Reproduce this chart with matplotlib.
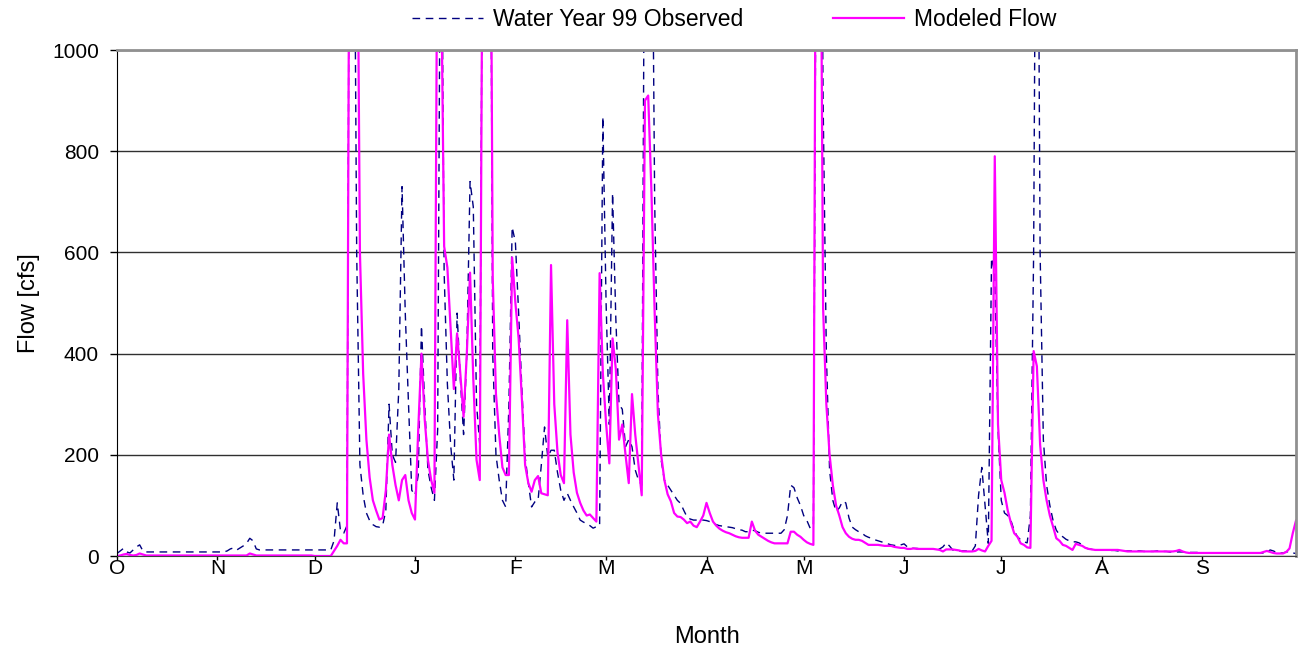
import matplotlib.pyplot as plt
import numpy as np

plt.rcParams['font.family'] = ['Liberation Sans', 'DejaVu Sans']

# daily flow, water year 1999 (Oct 1 .. Sep 30), values above 1000 are off the chart
observado = [
    # Oct
    5, 10, 15, 8, 6, 12, 18, 22, 10, 8, 8, 8, 8, 8, 8, 8, 8, 8, 8, 8, 8, 8, 8, 8, 8, 8, 8, 8, 8, 8, 8,
    # Nov
    8, 8, 8, 10, 14, 16, 12, 16, 20, 25, 35, 30, 14, 12, 12, 12, 12, 12, 12, 12, 12, 12, 12, 12, 12, 12, 12, 12, 12, 12,
    # Dec
    12, 12, 12, 12, 12, 12, 30, 105, 50, 45, 60, 1800, 1600, 600, 180, 120, 85, 70, 62, 58, 57, 60, 90, 300, 200,
    185, 330, 730, 480, 300, 130,
    # Jan
    120, 160, 455, 300, 170, 135, 110, 250, 1500, 560, 340, 220, 150, 480, 350, 240, 400, 740, 690, 300,
    220, 1500, 2000, 1800, 400, 200, 150, 110, 97, 300, 650,
    # Feb
    620, 480, 330, 196, 144, 97, 107, 110, 180, 255, 196, 209, 209, 165, 130, 110, 124, 110, 97, 85,
    71, 67, 64, 60, 55, 58, 60, 868,
    # Mar
    500, 260, 717, 470, 300, 290, 216, 230, 216, 170, 150, 140, 1500, 1800, 1500, 700, 330, 190, 150, 140,
    130, 120, 110, 104, 90, 77, 73, 71, 71, 71, 71,
    # Apr
    70, 68, 65, 62, 60, 59, 58, 57, 56, 54, 52, 51, 48, 48, 51, 50, 47, 45, 45, 45,
    45, 45, 45, 45, 52, 80, 140, 135, 115, 100,
    # May
    80, 70, 55, 60, 1500, 1800, 900, 400, 170, 110, 88, 95, 108, 105, 75, 57, 52, 48, 45, 40,
    37, 35, 32, 30, 28, 26, 24, 22, 21, 20, 22,
    # Jun
    24, 18, 16, 15, 15, 14, 14, 14, 14, 14, 14, 14, 18, 26, 20, 12, 10, 10, 10, 10,
    10, 10, 20, 120, 175, 100, 25, 589, 560, 250,
    # Jul
    110, 85, 80, 70, 50, 38, 32, 28, 26, 80, 600, 1800, 600, 230, 140, 100, 70, 51, 42, 38,
    33, 30, 28, 28, 26, 22, 16, 14, 13, 12, 12,
    # Aug
    12, 12, 12, 11, 11, 10, 10, 10, 10, 10, 10, 10, 10, 9, 9, 9, 9, 10, 10, 9,
    9, 8, 8, 8, 8, 8, 7, 7, 7, 7, 7,
    # Sep
    6, 6, 6, 6, 6, 6, 6, 6, 6, 6, 6, 6, 6, 6, 6, 6, 6, 6, 6, 6,
    6, 12, 10, 7, 6, 6, 8, 9, 6, 5,
]

modelado = [
    # Oct
    0, 1, 3, 4, 2, 1, 2, 5, 3, 1, 1, 1, 1, 1, 1, 1, 1, 1, 1, 1, 1, 1, 1, 1, 1, 1, 1, 1, 1, 1, 1,
    # Nov
    1, 1, 1, 1, 1, 1, 1, 1, 1, 1, 5, 3, 1, 1, 1, 1, 1, 1, 1, 1, 1, 1, 1, 1, 1, 1, 1, 1, 1, 1,
    # Dec
    0, 0, 0, 0, 0, 0, 10, 20, 32, 25, 25, 1800, 2200, 1500, 600, 360, 230, 155, 110, 90, 72, 75, 130, 240, 180,
    140, 110, 150, 160, 110, 85,
    # Jan
    72, 250, 400, 270, 190, 150, 125, 1400, 1200, 612, 570, 450, 330, 440, 360, 275, 400, 560, 350, 190,
    150, 1500, 2000, 1800, 550, 320, 240, 175, 160, 160, 590,
    # Feb
    500, 430, 310, 180, 144, 127, 150, 158, 124, 122, 120, 575, 300, 205, 160, 144, 466, 240, 165, 125,
    105, 90, 80, 82, 75, 68, 559, 361,
    # Mar
    262, 183, 430, 370, 230, 260, 200, 144, 320, 240, 180, 120, 900, 910, 720, 480, 280, 200, 150, 122,
    108, 85, 78, 77, 72, 65, 68, 60, 57, 68, 80,
    # Apr
    105, 85, 68, 60, 54, 50, 47, 45, 42, 39, 37, 36, 36, 36, 68, 50, 42, 38, 34, 30,
    27, 25, 25, 25, 25, 25, 48, 48, 42, 38,
    # May
    32, 27, 24, 22, 1800, 1600, 490, 300, 200, 140, 100, 80, 57, 45, 38, 34, 32, 32, 30, 26,
    22, 22, 22, 22, 21, 20, 20, 20, 18, 17, 16,
    # Jun
    16, 14, 14, 15, 14, 14, 14, 14, 14, 14, 13, 12, 9, 13, 13, 13, 12, 11, 9, 9,
    9, 9, 10, 14, 11, 9, 20, 30, 790, 260,
    # Jul
    150, 125, 90, 65, 45, 38, 25, 22, 17, 16, 405, 375, 220, 150, 110, 80, 58, 35, 30, 22,
    20, 16, 12, 24, 22, 20, 16, 14, 13, 12, 12,
    # Aug
    12, 12, 12, 12, 12, 12, 11, 10, 9, 9, 9, 9, 9, 9, 9, 9, 9, 9, 9, 9,
    9, 9, 9, 10, 12, 9, 7, 6, 6, 6, 6,
    # Sep
    6, 6, 6, 6, 6, 6, 6, 6, 6, 6, 6, 6, 6, 6, 6, 6, 6, 6, 6, 8,
    10, 8, 6, 5, 5, 5, 8, 15, 45, 70,
]

inicio_mes = [0, 31, 61, 92, 123, 151, 182, 212, 243, 273, 304, 335]
etiquetas_mes = ['O', 'N', 'D', 'J', 'F', 'M', 'A', 'M', 'J', 'J', 'A', 'S']

dias = np.arange(len(observado))

fig = plt.figure(figsize=(13.01, 6.51), dpi=100)
ax = fig.add_axes([117 / 1301, 1 - 556 / 651, (1296 - 117) / 1301, (556 - 50) / 651])

ax.plot(dias, observado, color='#000080', linewidth=1.0, dashes=(5.5, 4),
        label='Water Year 99 Observed')
ax.plot(dias, modelado, color='#FF00FF', linewidth=1.6, label='Modeled Flow')

ax.set_xlim(0, len(dias) - 1)
ax.set_ylim(0, 1000)
ax.set_yticks(np.arange(0, 1001, 200))
ax.set_xticks(inicio_mes)
ax.set_xticklabels(etiquetas_mes)
ax.yaxis.grid(True, color='#303030', linewidth=1.0)
ax.set_axisbelow(True)

ax.tick_params(axis='y', labelsize=15, length=5, width=1, pad=8, direction='out')
ax.tick_params(axis='x', labelsize=15, length=3, width=1, pad=-0.5, direction='out')

for lado in ['top', 'right']:
    ax.spines[lado].set_color('#909090')
    ax.spines[lado].set_linewidth(2)
ax.spines['left'].set_color('black')
ax.spines['bottom'].set_color('#404040')

ax.set_xlabel('Month', fontsize=17, labelpad=34)
ax.set_ylabel('Flow [cfs]', fontsize=17)
ax.yaxis.set_label_coords(-77 / 1179, 0.5)

ax.legend(loc='center', bbox_to_anchor=(734 / 1301, 1 - 20 / 651), bbox_transform=fig.transFigure,
          ncol=2, frameon=False, fontsize=16.5, handlelength=3.1, handletextpad=0.45,
          columnspacing=3.9)

plt.savefig('out.png', dpi=100)
